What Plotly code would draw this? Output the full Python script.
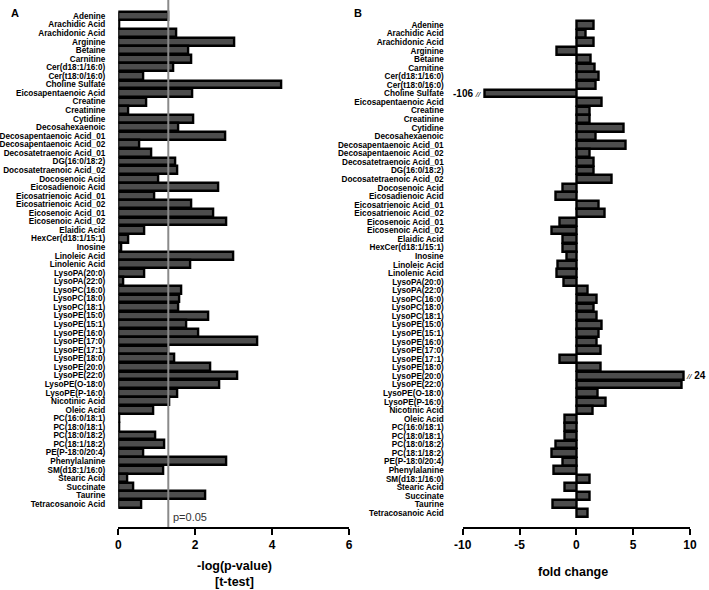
import plotly.graph_objects as go

metabolites = [
    "Adenine", "Arachidic Acid", "Arachidonic Acid", "Arginine", "Betaine", "Carnitine",
    "Cer(d18:1/16:0)", "Cer(t18:0/16:0)", "Choline Sulfate", "Eicosapentaenoic Acid",
    "Creatine", "Creatinine", "Cytidine", "Decosahexaenoic", "Decosapentaenoic Acid_01",
    "Decosapentaenoic Acid_02", "Decosatetraenoic Acid_01", "DG(16:0/18:2)",
    "Docosatetraenoic Acid_02", "Docosenoic Acid", "Eicosadienoic Acid",
    "Eicosatrienoic Acid_01", "Eicosatrienoic Acid_02", "Eicosenoic Acid_01",
    "Eicosenoic Acid_02", "Elaidic Acid", "HexCer(d18:1/15:1)", "Inosine", "Linoleic Acid",
    "Linolenic Acid", "LysoPA(20:0)", "LysoPA(22:0)", "LysoPC(16:0)", "LysoPC(18:0)",
    "LysoPC(18:1)", "LysoPE(15:0)", "LysoPE(15:1)", "LysoPE(16:0)", "LysoPE(17:0)",
    "LysoPE(17:1)", "LysoPE(18:0)", "LysoPE(20:0)", "LysoPE(22:0)", "LysoPE(O-18:0)",
    "LysoPE(P-16:0)", "Nicotinic Acid", "Oleic Acid", "PC(16:0/18:1)", "PC(18:0/18:1)",
    "PC(18:0/18:2)", "PC(18:1/18:2)", "PE(P-18:0/20:4)", "Phenylalanine", "SM(d18:1/16:0)",
    "Stearic Acid", "Succinate", "Taurine", "Tetracosanoic Acid",
]

neg_log_p = [
    1.31, 0.02, 1.50, 3.01, 1.82, 1.90, 1.42, 0.66, 4.23, 1.92,
    0.72, 0.26, 1.94, 1.56, 2.79, 0.55, 0.86, 1.49, 1.54, 1.05,
    2.60, 0.93, 1.89, 2.46, 2.81, 0.67, 0.27, 0.07, 3.00, 1.87,
    0.67, 0.12, 1.64, 1.59, 1.56, 2.34, 1.78, 2.09, 3.62, 1.31,
    1.45, 2.39, 3.10, 2.63, 1.54, 1.33, 0.90, 0.02, 0.02, 0.95,
    1.19, 0.66, 2.81, 1.18, 0.24, 0.38, 2.27, 0.59,
]

fold_change = [
    1.50, 0.82, 1.56, -1.70, 1.28, 1.62, 1.96, 1.74, -106, 2.20,
    1.16, 1.21, 4.20, 1.68, 4.36, 1.16, 1.50, 1.50, 3.14, -1.22,
    -1.80, 1.96, 2.50, -1.50, -2.15, -1.16, -1.16, -0.87, -1.62, -1.74,
    -1.10, 0.98, 1.80, 1.50, 1.80, 2.27, 1.96, 1.80, 2.15, -1.50,
    2.15, 24, 9.24, 1.90, 2.62, 1.45, -1.04, -0.99, -0.99, -1.80,
    -2.15, -1.22, -1.97, 1.16, -1.04, 1.16, -2.10, 1.04,
]

p_ticks = [0, 2, 4, 6]
fc_ticks = [-10, -5, 0, 5, 10]
fc_tick_labels = ["-10", "-5", "0", "5", "10"]

# broken-axis display lengths for the two off-scale bars
axis_break = {"Choline Sulfate": -8.05, "LysoPE(20:0)": 9.42}
p_threshold = 1.3  # -log10(0.05)

W, H = 709, 590
def px(x):
    return x / W
def py(y):
    return 1 - y / H

shown_fc = [axis_break.get(n, v) for n, v in zip(metabolites, fold_change)]
idx = list(range(len(metabolites)))

bar_style = dict(color="#4d4d4d", line=dict(color="black", width=2.4))
font_bold = dict(family="Liberation Sans", size=8.2, color="black", weight="bold")

fig = go.Figure()
fig.add_trace(go.Bar(x=neg_log_p, y=idx, orientation="h", marker=bar_style,
                     width=0.92, xaxis="x", yaxis="y", showlegend=False))
fig.add_trace(go.Bar(x=shown_fc, y=idx, orientation="h", marker=bar_style,
                     width=0.92, xaxis="x2", yaxis="y2", showlegend=False))

axis_common = dict(showgrid=False, zeroline=False, showline=True, linecolor="black",
                   linewidth=2, ticks="outside", ticklen=6, tickwidth=2, tickcolor="black",
                   automargin=False, tickmode="array",
                   tickfont=dict(family="Liberation Sans", size=12, color="black", weight="bold"))
ycommon = dict(showgrid=False, zeroline=False, showline=False, ticks="", automargin=False,
               tickmode="array", tickvals=idx, ticktext=metabolites, tickfont=font_bold)

pitch = 8.56
yA0, yB0, ybot = 16, 25, 527

fig.update_layout(
    width=W, height=H, margin=dict(l=0, r=0, t=0, b=0, autoexpand=False),
    paper_bgcolor="white", plot_bgcolor="white", bargap=0,
    xaxis=dict(domain=[px(118.3), px(349)], range=[0, 6], tickvals=p_ticks,
               ticktext=[str(t) for t in p_ticks], anchor="y", **axis_common),
    xaxis2=dict(domain=[px(462.7), px(690)], range=[-10, 10], tickvals=fc_ticks,
                ticktext=fc_tick_labels, anchor="y2", **axis_common),
    yaxis=dict(domain=[py(ybot), 1], range=[(ybot - yA0) / pitch, -yA0 / pitch],
               anchor="x", ticklabelstandoff=12, **ycommon),
    yaxis2=dict(domain=[py(ybot), 1], range=[(ybot - yB0) / pitch, -yB0 / pitch],
                anchor="x2", ticklabelstandoff=18, **ycommon),
)

fig.add_shape(type="line", xref="x", yref="y domain", x0=p_threshold, x1=p_threshold,
              y0=0, y1=1, line=dict(color="#8a8a8a", width=2))

def label(x, y, text, font, xanchor="center"):
    fig.add_annotation(x=px(x), y=py(y), xref="paper", yref="paper", text=text,
                       xanchor=xanchor, yanchor="middle", showarrow=False, font=font)

ann_font = dict(family="Liberation Sans", size=12.5, color="black", weight="bold")
label(234, 566, "-log(p-value)", ann_font)
label(234, 582, "[t-test]", ann_font)
label(573, 572, "fold change", ann_font)
label(171, 517, "p=0.05", dict(family="Liberation Sans", size=11, color="#333333"), "left")
letter_font = dict(family="Liberation Sans", size=11, color="black", weight="bold")
label(9, 13, "A", letter_font, "left")
label(352, 13, "B", letter_font, "left")

# break labels
ci = metabolites.index("Choline Sulfate")
li = metabolites.index("LysoPE(20:0)")
brk_font = dict(family="Liberation Sans", size=10, color="black", weight="bold")
fig.add_annotation(x=axis_break["Choline Sulfate"], y=ci, xref="x2", yref="y2",
                   text="%d <span style='font-size:8px;font-weight:normal'><i>//</i></span>" % fold_change[ci],
                   xanchor="right", yanchor="middle", xshift=-2, showarrow=False, font=brk_font)
fig.add_annotation(x=axis_break["LysoPE(20:0)"], y=li, xref="x2", yref="y2",
                   text="<span style='font-size:8px;font-weight:normal'><i>//</i></span> %d" % fold_change[li],
                   xanchor="left", yanchor="middle", xshift=1, showarrow=False, font=brk_font)

fig.write_html("out.html", config={"displayModeBar": False},
               post_script="document.body.style.margin='0px';")
